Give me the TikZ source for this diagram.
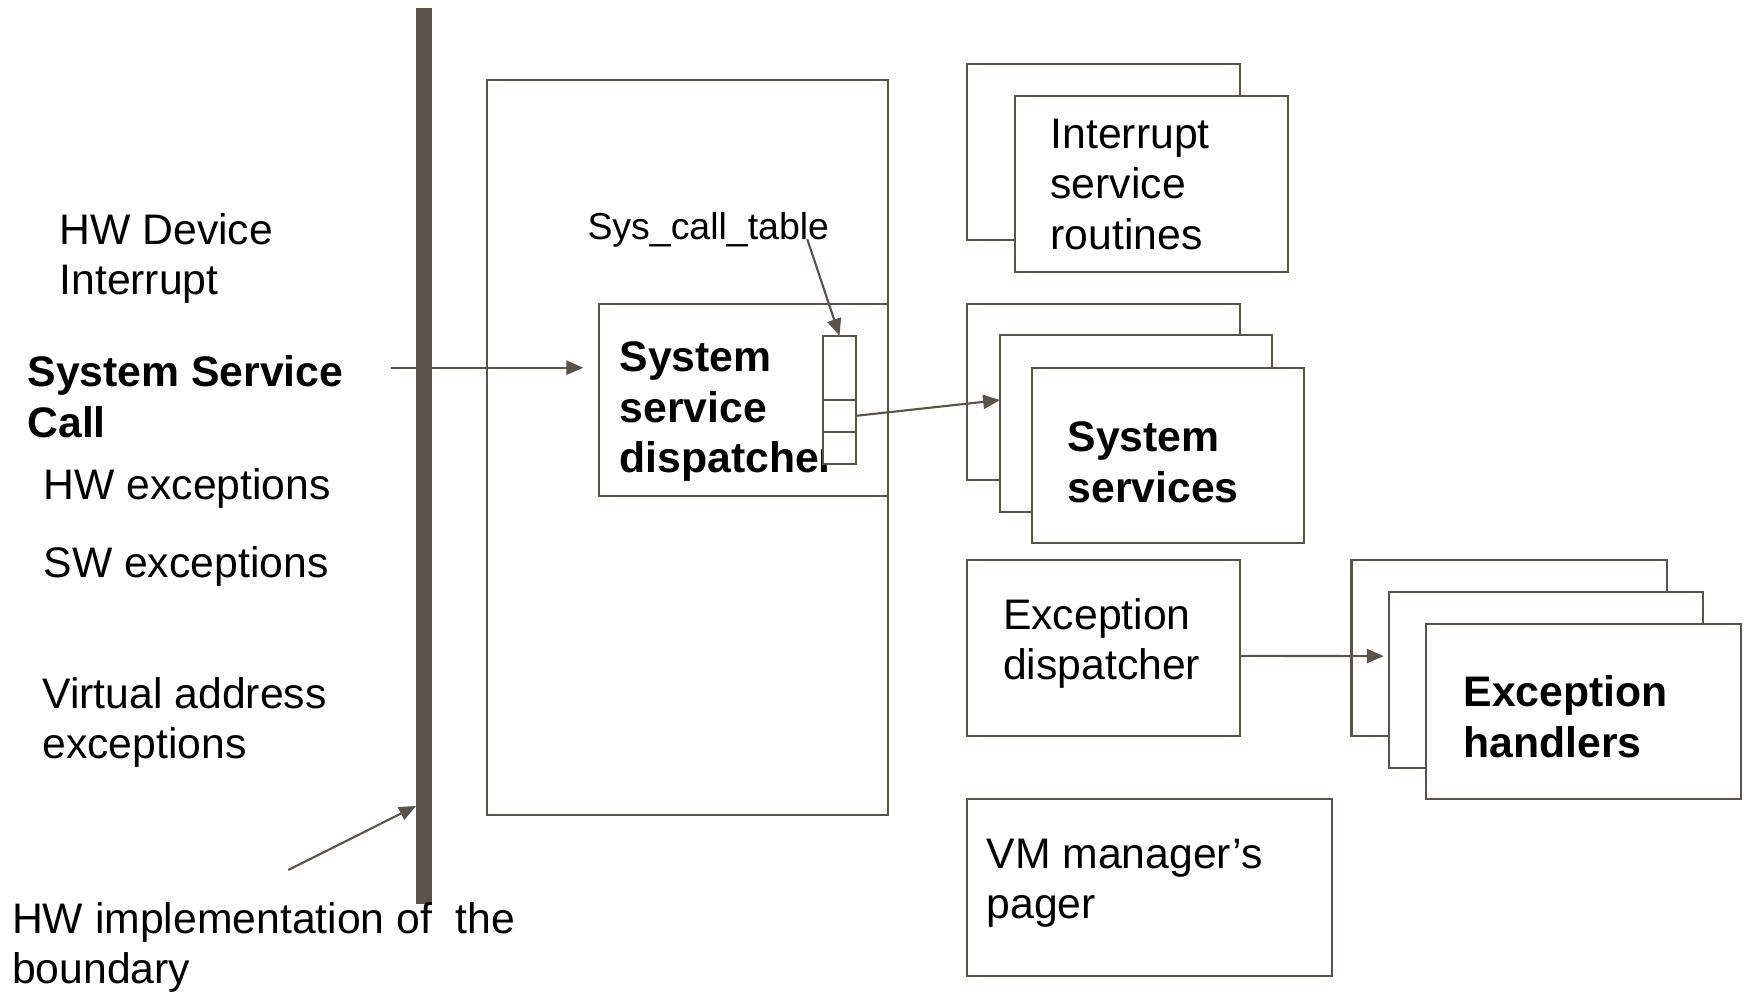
\documentclass[tikz,border=0pt]{standalone}
\usepackage{fontspec}
\setmainfont{Liberation Sans}
\usetikzlibrary{arrows.meta}

\definecolor{lc}{RGB}{91,82,73}

% body text and the smaller table label
\newcommand\bodysize{\fontsize{12.15pt}{14.4pt}\selectfont}
\newcommand\smallsize{\fontsize{10.65pt}{12.6pt}\selectfont}
% left-aligned block of lines whose baseline is the first line
\newcommand\txtlines[1]{\begin{tabular}[t]{@{}l@{}}#1\end{tabular}}
% framed white box from (x1,y1) to (x2,y2), in pixel units
\newcommand\pixbox[5]{%
  \node[frame, anchor=north west,
        minimum width={(#4-#2)*0.01cm}, minimum height={(#5-#3)*0.01cm}]
        (#1) at (#2,#3) {};}

\tikzset{
  frame/.style={draw=lc, line width=0.6pt, fill=white, inner sep=0pt, outer sep=0pt},
  lbl/.style={anchor=base west, inner sep=0pt, outer sep=0pt, font=\bodysize},
  conn/.style={draw=lc, line width=0.6pt,
    -{Triangle[length=4.8pt,width=4pt]}},
}

\begin{document}
\begin{tikzpicture}[x=0.01cm, y=-0.01cm]
\useasboundingbox (0,0) rectangle (1746,991);

% hardware boundary bar
\node[fill=lc, inner sep=0pt, outer sep=0pt, anchor=north west,
      minimum width=0.157cm, minimum height=8.953cm] (bar) at (416,8) {};

% labels on the left
\node[lbl] (hwdev) at (59.5,244) {\txtlines{HW Device\\Interrupt}};
\node[lbl, font=\bodysize\bfseries] (ssc) at (27.5,386.7) {\txtlines{System Service\\Call}};
\node[lbl] (hwexc) at (43.5,499.3) {HW exceptions};
\node[lbl] (swexc) at (43.5,577.7) {SW exceptions};
\node[lbl] (vaexc) at (42.5,708.3) {\txtlines{Virtual address\\exceptions}};
\node[lbl] (hwimpl) at (12,933.3) {\txtlines{HW implementation of\ \ the\\boundary}};

% kernel area and the dispatcher
\pixbox{kernel}{487.3}{80}{888}{815}
\pixbox{disp}{599.3}{303.7}{888}{495.7}
\node[lbl, font=\bodysize\bfseries] (disptext) at (619.5,371.7) {\txtlines{System\\service\\dispatcher}};
\node[lbl, font=\smallsize] (sct) at (587.5,239.3) {Sys\_call\_table};

% system call table cells
\pixbox{cellA}{823.3}{335.7}{855.7}{400}
\pixbox{cellB}{823.3}{400}{855.7}{431.7}
\pixbox{cellC}{823.3}{431.7}{855.7}{464}

% interrupt service routines
\pixbox{irA}{967.3}{64}{1240}{240}
\pixbox{irB}{1015.3}{96}{1288.3}{271.7}
\node[lbl] (irtext) at (1050.5,148.3) {\txtlines{Interrupt\\service\\routines}};

% system services
\pixbox{ssA}{967.3}{304}{1240}{480}
\pixbox{ssB}{1000}{335.3}{1271.7}{512}
\pixbox{ssC}{1031.7}{367.7}{1304}{543.3}
\node[lbl, font=\bodysize\bfseries] (sstext) at (1067.5,451.7) {\txtlines{System\\services}};

% exception dispatcher
\pixbox{exc}{967.3}{560}{1240}{735.7}
\node[lbl] (exctext) at (1003,629) {\txtlines{Exception\\dispatcher}};

% exception handlers
\pixbox{ehA}{1351.5}{560}{1666.6}{736}
\pixbox{ehB}{1388.7}{592}{1703.1}{768.3}
\pixbox{ehC}{1425.6}{624}{1740.7}{799.3}
\node[lbl, font=\bodysize\bfseries] (ehtext) at (1463.5,706.7) {\txtlines{Exception\\handlers}};

% VM manager's pager
\pixbox{vm}{967.3}{799.3}{1332.3}{975.7}
\node[lbl] (vmtext) at (986.5,868.3) {\txtlines{VM manager’s\\pager}};

% connectors
\coordinate (sscfrom) at (391,367.7);
\coordinate (sscto) at (583.3,367.7);
\draw[conn] (sscfrom) -- (sscto);

\coordinate (sctfrom) at (807.3,239.3);
\draw[conn] (sctfrom) -- (cellA.north);

\draw[conn] (cellB.east) -- ([yshift=-0.647cm]ssB.north west);

\draw[conn, shorten >=0.05cm] ([yshift=-0.08cm]exc.east) -- ([yshift=0.24cm]ehB.west);

\coordinate (implfrom) at (288.3,870);
\draw[conn] (implfrom) -- (bar.west |- 0,806);
\end{tikzpicture}
\end{document}
